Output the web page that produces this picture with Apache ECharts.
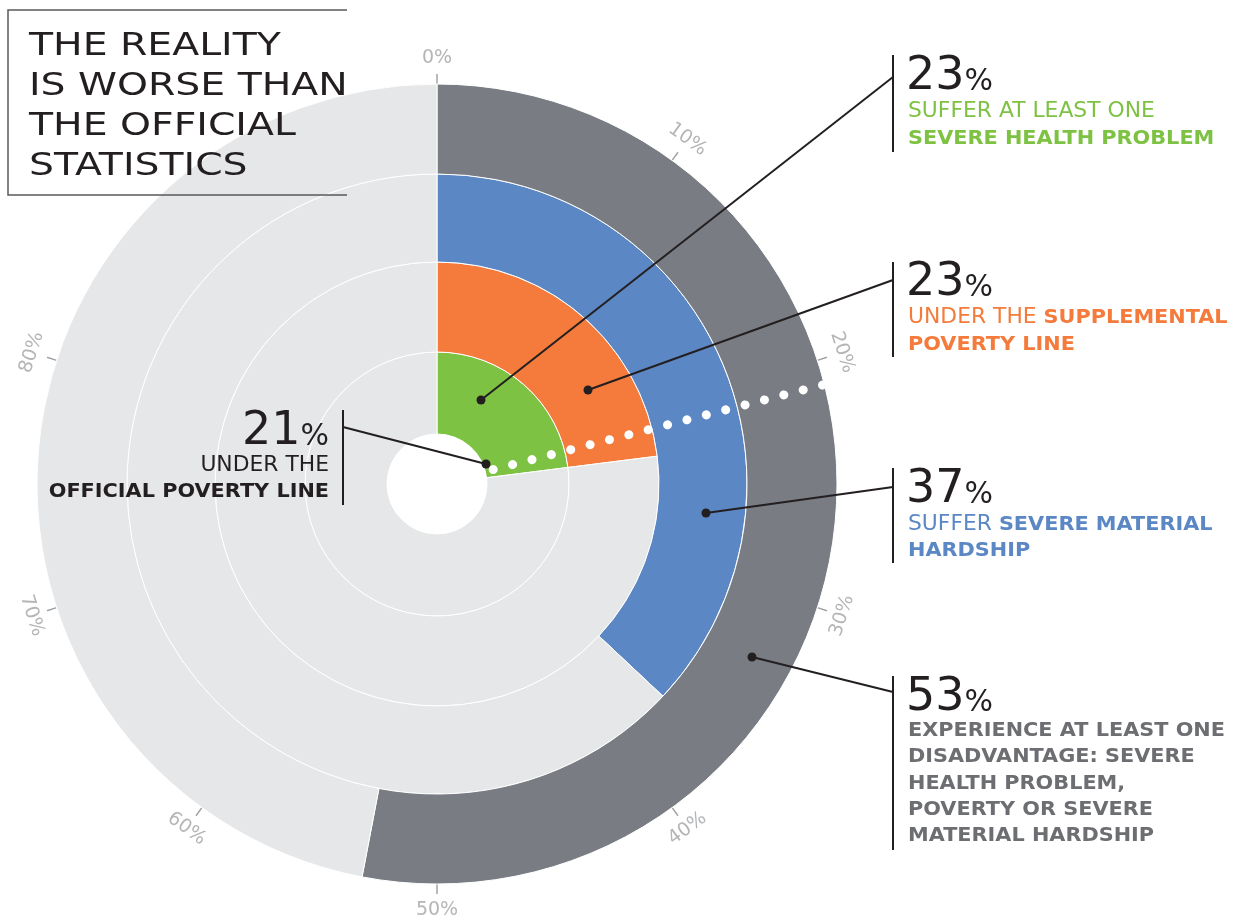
<!DOCTYPE html>
<html lang="en">
<head>
<meta charset="UTF-8">
<title>The reality is worse than the official statistics</title>
<script src="https://cdn.jsdelivr.net/npm/echarts@6/dist/echarts.min.js"></script>
<style>
  html, body { margin: 0; padding: 0; background: #fff; }
  #main { width: 1242px; height: 920px; }
</style>
</head>
<body>
<div id="main"></div>
<script>
// rings, from the inside out
const rings = ['Severe health problem', 'Supplemental poverty line', 'Severe material hardship', 'At least one disadvantage'];
const ringValues = [23, 23, 37, 53];
const officialRate = 21;
const tickValues = [0, 10, 20, 30, 40, 50, 60, 70, 80];

const ringColors = ['#7dc242', '#f47b3b', '#5b87c5', '#797d83'];
const restColor = '#e6e7e8';
const ringRadii = [[50, 132], [132, 222], [222, 310], [310, 400]];
const CX = 437, CY = 484;
const FONT = '"DejaVu Sans", sans-serif';
const DARK = '#231f20';
const TICK = '#a0a2a5';

let chart = echarts.init(document.getElementById('main'));

let ringSeries = rings.map((name, i) => ({
    type: 'pie',
    name: name,
    center: [CX, CY],
    radius: ringRadii[i],
    startAngle: 90,
    clockwise: true,
    silent: true,
    animation: false,
    label: { show: false },
    labelLine: { show: false },
    itemStyle: { borderColor: '#fff', borderWidth: 1 },
    data: [
        { value: ringValues[i], itemStyle: { color: ringColors[i] } },
        { value: 100 - ringValues[i], itemStyle: { color: restColor } }
    ]
}));

// percent labels round the outside, turned along the circle
function tangentRotate(v) {
    let a = v * 3.6;
    if (a > 90 && a < 270) a -= 180;
    else if (a >= 270) a -= 360;
    return -a;
}
let tickLabelData = tickValues.map(v => ({
    value: [1, v],
    label: { rotate: tangentRotate(v) }
}));

function bigNum(x, y, v, align) {
    return {
        type: 'text', z: 100, x: x, y: y,
        style: {
            text: '{n|' + v + '}{p|%}',
            align: align || 'left',
            verticalAlign: 'top',
            rich: {
                n: { fontSize: 46, fontFamily: FONT, fill: DARK, verticalAlign: 'bottom' },
                p: { fontSize: 30, fontFamily: FONT, fill: DARK, verticalAlign: 'bottom', padding: [0, 0, 3, 0] }
            }
        }
    };
}
function line(x, y, text, color, align) {
    return {
        type: 'text', z: 100, x: x, y: y, scaleX: 1.04,
        style: {
            text: text,
            align: align || 'left',
            verticalAlign: 'middle',
            rich: {
                r: { fontSize: 21, fontFamily: FONT, fill: color },
                b: { fontSize: 20, fontFamily: FONT, fontWeight: 'bold', fill: color }
            }
        }
    };
}
function leader(x1, y1, x2, y2) {
    return [
        { type: 'line', z: 100, shape: { x1: x1, y1: y1, x2: x2, y2: y2 }, style: { stroke: DARK, lineWidth: 2 } },
        { type: 'circle', z: 101, shape: { cx: x1, cy: y1, r: 4.5 }, style: { fill: DARK } }
    ];
}
function bar(x, y1, y2) {
    return { type: 'line', z: 100, shape: { x1: x, y1: y1, x2: x, y2: y2 }, style: { stroke: DARK, lineWidth: 2 } };
}

let graphics = [
    // title box
    { type: 'polyline', z: 100, shape: { points: [[347, 10], [8, 10], [8, 195], [347, 195]] },
      style: { stroke: '#58595b', lineWidth: 1.5, fill: null } },
    { type: 'text', z: 100, x: 29, y: 27, scaleX: 1.23,
      style: { text: 'THE REALITY\nIS WORSE THAN\nTHE OFFICIAL\nSTATISTICS', fontSize: 32, lineHeight: 40,
               fontFamily: FONT, fill: DARK, verticalAlign: 'top' } },

    // 21% official
    bigNum(329, 409, officialRate, 'right'),
    line(329, 466, '{r|UNDER THE}', DARK, 'right'),
    line(329, 492, '{b|OFFICIAL POVERTY LINE}', DARK, 'right'),
    bar(343, 410, 505),
    ...leader(486, 464, 343, 427),

    // 23% health
    bigNum(906, 54, ringValues[0]),
    line(908, 112, '{r|SUFFER AT LEAST ONE}', ringColors[0]),
    line(908, 139, '{b|SEVERE HEALTH PROBLEM}', ringColors[0]),
    bar(893, 55, 152),
    ...leader(481, 400, 893, 77),

    // 23% supplemental
    bigNum(906, 260, ringValues[1]),
    line(908, 318, '{r|UNDER THE }{b|SUPPLEMENTAL}', ringColors[1]),
    line(908, 345, '{b|POVERTY LINE}', ringColors[1]),
    bar(893, 262, 357),
    ...leader(588, 390, 893, 280),

    // 37% hardship
    bigNum(906, 467, ringValues[2]),
    line(908, 525, '{r|SUFFER }{b|SEVERE MATERIAL}', ringColors[2]),
    line(908, 551, '{b|HARDSHIP}', ringColors[2]),
    bar(893, 468, 563),
    ...leader(706, 513, 893, 487),

    // 53% disadvantage
    bigNum(906, 675, ringValues[3]),
    line(908, 731, '{b|EXPERIENCE AT LEAST ONE}', '#6d6e71'),
    line(908, 757, '{b|DISADVANTAGE: SEVERE}', '#6d6e71'),
    line(908, 784, '{b|HEALTH PROBLEM,}', '#6d6e71'),
    line(908, 810, '{b|POVERTY OR SEVERE}', '#6d6e71'),
    line(908, 836, '{b|MATERIAL HARDSHIP}', '#6d6e71'),
    bar(893, 676, 850),
    ...leader(752, 657, 893, 692)
];

chart.setOption({
    animation: false,
    polar: [
        { center: [CX, CY], radius: [0, 400] },
        { center: [CX, CY], radius: [0, 426] }
    ],
    angleAxis: [
        {
            polarIndex: 0,
            type: 'value', min: 0, max: 100, interval: 10,
            startAngle: 90, clockwise: true,
            axisLine: { show: false },
            splitLine: { show: false },
            axisTick: { show: true, length: 10, customValues: tickValues,
                        lineStyle: { color: TICK, width: 1.5 } },
            axisLabel: { show: false }
        },
        {
            polarIndex: 1,
            type: 'value', min: 0, max: 100, interval: 10,
            startAngle: 90, clockwise: true, show: false
        }
    ],
    radiusAxis: [
        { polarIndex: 0, type: 'value', min: 0, max: 400, show: false },
        { polarIndex: 1, type: 'value', min: 0, max: 1, show: false }
    ],
    series: [
        ...ringSeries,
        {
            type: 'line',
            coordinateSystem: 'polar',
            polarIndex: 0,
            symbol: 'none',
            silent: true,
            z: 10,
            data: [[58, officialRate], [400, officialRate]],
            lineStyle: { color: '#fff', width: 9, type: [0.1, 19.9], cap: 'round' }
        },
        {
            type: 'scatter',
            coordinateSystem: 'polar',
            polarIndex: 1,
            silent: true,
            symbolSize: 2,
            itemStyle: { color: 'rgba(255,255,255,0)' },
            data: tickLabelData,
            label: {
                show: true, position: 'inside',
                formatter: p => p.value[1] + '%',
                color: TICK, fontSize: 19, fontFamily: FONT
            },
            labelLayout: { hideOverlap: false }
        }
    ],
    graphic: graphics
});
</script>
</body>
</html>
